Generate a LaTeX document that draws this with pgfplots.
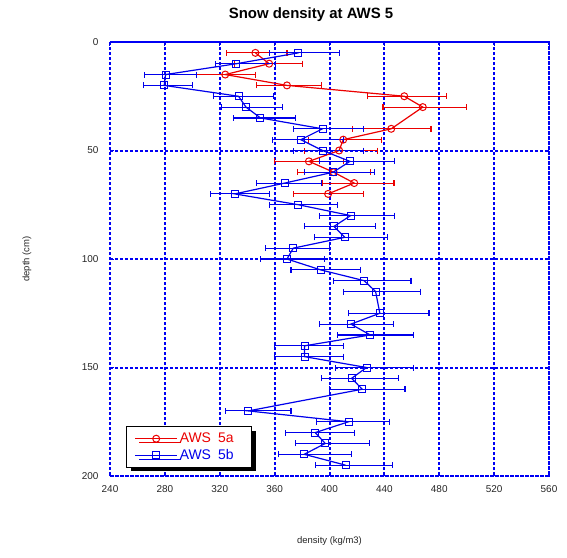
\documentclass[border=0pt]{standalone}
\usepackage{fontspec}
\setmainfont{Liberation Sans}
\usepackage{pgfplots}
\usepackage{pgfplotstable}
\pgfplotsset{compat=1.18}
\usetikzlibrary{shadows}
\definecolor{myred}{RGB}{235,0,0}
\definecolor{myblue}{RGB}{0,0,235}
\definecolor{gridblue}{RGB}{0,0,245}

% depth, density, error plus, error minus
\pgfplotstableread{
d x ep em
5 346 23 21
10 356 24 25
15 324 22 21
20 369 25 22
25 454.5 30.5 27
30 468 32 29
40 445 29 28
45 410 28 25
50 407 28 25
55 385 25 25
60 403 27 26
65 418 29 23
70 399 26 25
}\awsfivea

\pgfplotstableread{
d x ep em
5 377.4 30.2 21.3
10 332.2 28.7 15.3
15 280.5 22.6 15.1
20 279.5 20.7 15.3
25 333.7 25.8 18.5
30 339.1 26.4 17.8
35 349.7 25.8 19.6
40 394.9 29.7 20.9
45 379.1 31.0 20.6
50 394.9 29.7 20.9
55 414.9 32.3 21.9
60 402.7 30.4 20.6
65 367.5 26.7 20.7
70 331.0 25.1 17.5
75 377.4 28.5 20.9
80 415.4 31.8 22.9
85 403.2 30.1 21.1
90 411.2 30.9 22.3
95 373.6 26.2 20.2
100 369.0 27.6 19.0
105 393.5 29.2 21.6
110 425.3 34.1 22.1
115 433.6 32.8 23.1
125 436.7 35.8 23.0
130 415.6 31.3 23.1
135 429.7 31.8 24.0
140 381.8 28.7 22.1
145 381.8 28.7 22.1
150 427.0 34.0 22.3
155 416.1 34.0 21.9
160 423.9 31.1 23.6
170 340.8 31.1 16.8
175 413.9 30.1 23.1
180 389.6 28.9 21.4
185 396.9 32.3 21.6
190 381.6 34.2 18.5
195 411.7 34.0 21.9
}\awsfiveb

\begin{document}
\begin{tikzpicture}
\begin{axis}[
  name=ax,
  scale only axis, width=439bp, height=434bp,
  xmin=240, xmax=560, ymin=0, ymax=200, y dir=reverse,
  xtick={240,280,...,560}, ytick={0,50,...,200},
  grid=major,
  major grid style={gridblue, line width=2bp, dash pattern=on 3bp off 2bp},
  axis line style={gridblue, line width=2bp, dash pattern=on 3bp off 2bp},
  tick style={myblue, solid, line width=1bp},
  major tick length=4bp,
  tick align=inside,
  ticklabel style={font=\fontsize{10}{12}\selectfont, text=black!85},
  /pgf/number format/assume math mode=true,
  /pgf/number format/1000 sep={},
  yticklabel style={xshift=-8bp},
  xticklabel style={yshift=-6bp},
  title={Snow density at AWS 5},
  title style={at={(axis description cs:0.458,1.05)}, anchor=center, yshift=0pt,
    font=\bfseries\fontsize{15}{17}\selectfont},
  xlabel={density (kg/m3)},
  xlabel style={at={(axis description cs:0.5,-0.15)}, anchor=center,
    font=\fontsize{9.5}{11}\selectfont, text=black!85},
  ylabel={depth (cm)},
  ylabel style={at={(axis description cs:-0.189,0.5)}, anchor=center,
    font=\fontsize{9.5}{11}\selectfont, text=black!85},
  legend cell align=left,
  legend style={at={(axis description cs:0.0364,0.1152)}, anchor=north west,
    draw=black, line width=1.2bp, fill=white,
    drop shadow={shadow xshift=4bp, shadow yshift=-4bp, fill=black, opacity=1},
    font=\fontsize{14}{16}\selectfont, row sep=1bp, inner ysep=4.5bp, inner xsep=2bp},
  legend image code/.code={\path (0bp,0bp); \draw[mark repeat=2,mark phase=2,#1] plot coordinates {(6bp,0bp) (27bp,0bp) (48bp,0bp)};},
]
\addplot[myred, line width=1.2bp, mark=o, mark size=3.5bp, mark options={solid, line width=1bp},
  error bars/.cd, x dir=both, x explicit,
  error bar style={line width=1.1bp, myred},
  error mark options={rotate=90, mark size=3bp, line width=1.1bp, myred}]
  table[x=x, y=d, x error plus=ep, x error minus=em] {\awsfivea};
\addlegendentry{\textcolor{myred}{AWS\hspace{7bp}5a\hspace{14bp}}}
\addplot[myblue, line width=1.2bp, mark=square, mark size=3.5bp, mark options={solid, line width=1bp},
  error bars/.cd, x dir=both, x explicit,
  error bar style={line width=1.1bp, myblue},
  error mark options={rotate=90, mark size=3bp, line width=1.1bp, myblue}]
  table[x=x, y=d, x error plus=ep, x error minus=em] {\awsfiveb};
\addlegendentry{\textcolor{myblue}{AWS\hspace{7bp}5b\hspace{14bp}}}
\end{axis}
\path (ax.south west) ++(-110bp,-82bp) rectangle ++(567bp,558bp);
\end{tikzpicture}
\end{document}
